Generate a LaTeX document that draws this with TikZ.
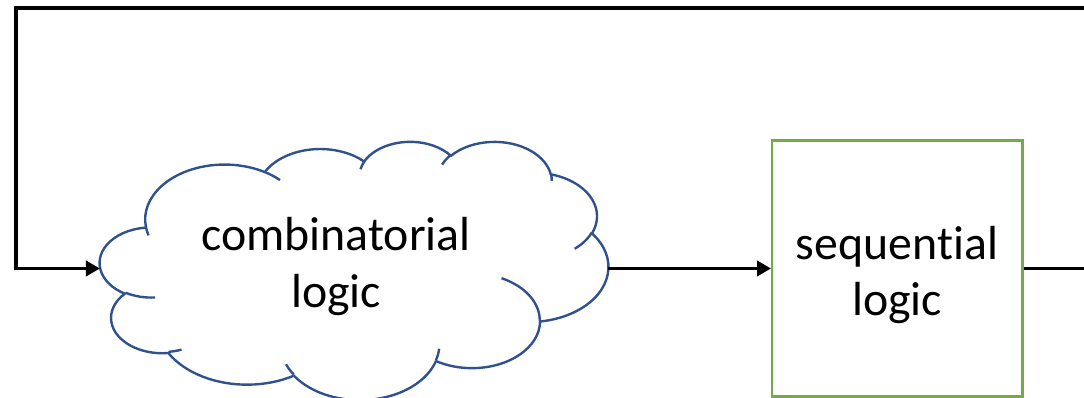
\documentclass[tikz,border=0pt]{standalone}
\usepackage{fontspec}
\setmainfont{Carlito}[RawFeature={-liga}]
\usepackage{tikz}
\usetikzlibrary{arrows.meta}
\definecolor{edge_blue}{RGB}{47,82,143}
\definecolor{edge_green}{RGB}{112,173,71}
% one arc of an office cloud: x radius, y radius, visual start angle, sweep
\tikzset{ooarc/.style n args={4}{x radius=#1, y radius=#2,
    start angle={atan2(#1*sin(#3),#2*cos(#3))},
    delta angle={mod(atan2(#1*sin(#3+#4),#2*cos(#3+#4))-atan2(#1*sin(#3),#2*cos(#3))+720,360)}}}

\begin{document}
\begin{tikzpicture}[x=0.025cm,y=-0.025cm,>={Triangle[length=0.35cm,width=0.375cm]}]
    \tikzstyle{wire}=[draw=black, line width=2.6pt]
    \tikzstyle{cloudy}=[draw=edge_blue, line width=1.7pt, line join=round]
    \tikzstyle{block}=[draw=edge_green, line width=1.7pt, rectangle, minimum width=6.25cm, minimum height=6.4cm]
    \tikzstyle{label}=[align=center, font=\fontsize{34}{40}\selectfont]
    \clip (0,0) rectangle (1084,398);

    % cloud outline
    \begin{scope}[shift={(100,141)}, x=0.029398cm, y=-0.014931cm]
      \draw[cloudy] (39.00,143.70)
        arc[ooarc={67.53}{91.90}{-190.4875}{123.7805}]
        arc[ooarc={53.33}{72.67}{-144.1024}{89.9452}]
        arc[ooarc={43.65}{59.45}{-145.8079}{99.7230}]
        arc[ooarc={48.57}{65.95}{-130.9861}{117.2417}]
        arc[ooarc={53.33}{72.73}{-78.7089}{109.0269}]
        arc[ooarc={67.75}{92.20}{-46.2673}{130.2690}]
        arc[ooarc={57.85}{78.67}{0.6250}{114.0333}]
        arc[ooarc={67.52}{92.15}{22.4516}{115.1726}]
        arc[ooarc={77.20}{105.43}{66.2426}{75.7110}]
        arc[ooarc={43.60}{59.18}{-274.9421}{146.7356}]
        arc[ooarc={43.45}{59.45}{-246.8285}{152.5189}]
        -- cycle;
      \draw[cloudy]
        (46.93,261.77) arc[ooarc={43.45}{59.45}{86.7420}{26.4295}]
        (69.28,348.99) arc[ooarc={43.60}{59.18}{73.6105}{11.4475}]
        (164.78,390.90) arc[ooarc={67.52}{92.15}{137.6242}{14.0811}]
        (288.27,347.51) arc[ooarc={67.52}{92.15}{6.4533}{15.9984}]
        (341.29,229.54) arc[ooarc={57.85}{78.67}{-70.2924}{70.9174}]
        (417.98,153.54) arc[ooarc={53.33}{72.73}{30.3180}{27.7515}]
        (383.24,54.26) arc[ooarc={48.57}{65.95}{-13.7443}{14.8512}]
        (290.78,39.52) arc[ooarc={48.57}{65.95}{-149.1815}{18.1954}]
        (221.41,47.20) arc[ooarc={43.65}{59.45}{-163.4943}{17.6864}]
        (140.00,51.92) arc[ooarc={67.53}{91.90}{-66.7070}{12.3194}]
        (41.27,157.89) arc[ooarc={67.53}{91.90}{157.6544}{11.8582}];
    \end{scope}

    \node[label] (comb) at (336,266.5) {combinatorial\\logic};
    \node[block] (seq) at (897.3,268.5) {};
    \node[label] (seqtxt) at (897,275) {sequential\\logic};
    \coordinate (comb_in) at (100,268.5);
    \coordinate (comb_out) at (608,268.5);
    \coordinate (tr) at (1095,8);
    \coordinate (tl) at (16,8);

    \draw[wire,->] (comb_out) -- (seq.west);
    \draw[wire,->] (seq.east) -| (tr) -- (tl) |- (comb_in);
  \end{tikzpicture}
\end{document}
